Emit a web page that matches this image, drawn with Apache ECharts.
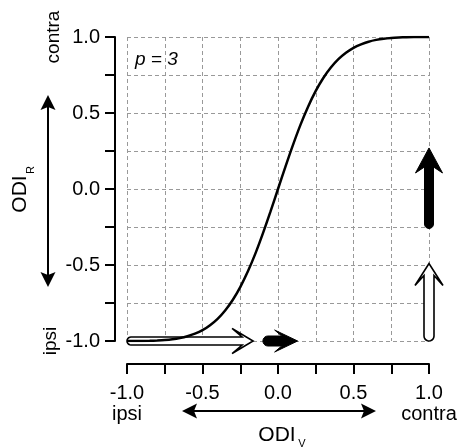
<!DOCTYPE html>
<html>
<head>
<meta charset="utf-8">
<script src="https://cdn.jsdelivr.net/npm/echarts@6/dist/echarts.min.js"></script>
<style>
  html,body{margin:0;padding:0;background:#fff;}
  #main{width:460px;height:448px;}
</style>
</head>
<body>
<div id="main"></div>
<script>
// curve p = 3
let odiV=[-1,-0.95,-0.9,-0.85,-0.8,-0.75,-0.7,-0.65,-0.6,-0.55,-0.5,-0.45,-0.4,-0.35,-0.3,-0.25,-0.2,-0.15,-0.1,-0.05,
          0,0.05,0.1,0.15,0.2,0.25,0.3,0.35,0.4,0.45,0.5,0.55,0.6,0.65,0.7,0.75,0.8,0.85,0.9,0.95,1];
let odiR=[-1,-1,-1,-0.999,-0.997,-0.994,-0.989,-0.981,-0.969,-0.952,-0.929,-0.896,-0.854,-0.799,-0.73,-0.645,-0.543,-0.425,-0.292,-0.149,
          0,0.149,0.292,0.425,0.543,0.645,0.73,0.799,0.854,0.896,0.929,0.952,0.969,0.981,0.989,0.994,0.997,0.999,1,1,1];

// arrows inside the plot (data coords)
let arrowX0=[-1,-0.1,1,1];
let arrowY0=[-1,-1,-1,-0.26];
let arrowX1=[-0.165,0.13,1,1];
let arrowY1=[-1,-1,-0.49,0.27];
let arrowFilled=[0,1,0,1];

// tick labels
let xTickVals=[-1,-0.5,0,0.5,1];
let xTickText=['-1.0\nipsi','-0.5','0.0','0.5','1.0\ncontra'];
let yTickVals=[-1,-0.5,0,0.5,1];
let yTickText=['-1.0','-0.5','0.0','0.5','1.0'];

let font='"Liberation Sans", Arial, Helvetica, sans-serif';

function tickLabel(vals,texts){
    return function(v){
        for(let i=0;i<vals.length;i++){
            if(Math.abs(vals[i]-v)<1e-6) return texts[i];
        }
        return '';
    }
}

// stealth arrow outline in pixel space
function arrowPoints(p0,p1,w,H,L,n){
    let dx=p1[0]-p0[0], dy=p1[1]-p0[1];
    let len=Math.sqrt(dx*dx+dy*dy);
    let ux=dx/len, uy=dy/len;
    let nx=-uy, ny=ux;
    let loc=[];
    for(let k=0;k<=10;k++){
        let a=Math.PI/2+k*Math.PI/10;
        loc.push([w+w*Math.cos(a), w*Math.sin(a)]);
    }
    loc.push([len-L+n,-w]);
    loc.push([len-L,-H]);
    loc.push([len,0]);
    loc.push([len-L,H]);
    loc.push([len-L+n,w]);
    return loc.map(function(q){
        return [p0[0]+q[0]*ux+q[1]*nx, p0[1]+q[0]*uy+q[1]*ny];
    });
}

function headPoly(tip,dir,L,H,n){
    let ux=dir[0], uy=dir[1], nx=-uy, ny=ux;
    let pts=[[0,0],[-L,H],[-L+n,0],[-L,-H]];
    return pts.map(function(q){
        return [tip[0]+q[0]*ux+q[1]*nx, tip[1]+q[0]*uy+q[1]*ny];
    });
}

function doubleArrow(a,b){
    let dx=b[0]-a[0], dy=b[1]-a[1];
    let len=Math.sqrt(dx*dx+dy*dy);
    let u=[dx/len,dy/len];
    return {
        type:'group',
        children:[
            {type:'line',shape:{x1:a[0]+u[0]*8,y1:a[1]+u[1]*8,x2:b[0]-u[0]*8,y2:b[1]-u[1]*8},style:{stroke:'#000',lineWidth:2}},
            {type:'polygon',shape:{points:headPoly(a,[-u[0],-u[1]],15,7.5,3)},style:{fill:'#000'}},
            {type:'polygon',shape:{points:headPoly(b,u,15,7.5,3)},style:{fill:'#000'}}
        ]
    };
}

function txt(str,x,y,size,rot,extra){
    let st={text:str,x:0,y:0,align:'center',verticalAlign:'middle',fontSize:size,fontFamily:font,fill:'#000'};
    if(extra) Object.assign(st,extra);
    return {type:'text',x:x,y:y,rotation:rot||0,style:st,z:10};
}

let curve=odiV.map(function(v,i){return [v,odiR[i]];});
let arrows=arrowX0.map(function(v,i){return [v,arrowY0[i],arrowX1[i],arrowY1[i],arrowFilled[i]];});

let myChart=echarts.init(document.getElementById('main'));

let gridLine={show:true,lineStyle:{color:'#999',width:1,type:[4,3]}};

let option={
    animation:false,
    backgroundColor:'#fff',
    grid:{left:127,right:31,top:37,bottom:107,containLabel:false},
    xAxis:{
        type:'value',min:-1,max:1,interval:0.25,offset:23,
        axisLine:{show:true,onZero:false,lineStyle:{color:'#000',width:2}},
        axisTick:{show:true,length:10,lineStyle:{color:'#000',width:2}},
        axisLabel:{show:true,margin:19,fontSize:20,fontFamily:font,color:'#000',lineHeight:21,
            formatter:tickLabel(xTickVals,xTickText),showMinLabel:true,showMaxLabel:true},
        splitLine:gridLine
    },
    yAxis:{
        type:'value',min:-1,max:1,interval:0.25,offset:12,
        axisLine:{show:true,onZero:false,lineStyle:{color:'#000',width:2}},
        axisTick:{show:true,length:10,lineStyle:{color:'#000',width:2}},
        axisLabel:{show:true,margin:15,fontSize:20,fontFamily:font,color:'#000',
            formatter:tickLabel(yTickVals,yTickText),showMinLabel:true,showMaxLabel:true},
        splitLine:gridLine
    },
    series:[{
        type:'custom',
        coordinateSystem:'cartesian2d',
        clip:false,
        z:3,
        data:arrows,
        renderItem:function(params,api){
            let p0=api.coord([api.value(0),api.value(1)]);
            let p1=api.coord([api.value(2),api.value(3)]);
            let filled=api.value(4)===1;
            let vertical=Math.abs(p1[0]-p0[0])<1;
            let pts;
            if(filled){
                pts=arrowPoints(p0,p1,vertical?4.5:5,vertical?13.5:11,vertical?25:23,vertical?6:7);
            }else{
                pts=arrowPoints(p0,p1,vertical?5:4,vertical?14:12.5,vertical?22:21,10);
            }
            return {
                type:'polygon',
                shape:{points:pts},
                style:{fill:filled?'#000':'#fff',stroke:'#000',lineWidth:filled?1:1.6}
            };
        }
    },{
        type:'line',
        data:curve,
        smooth:0.3,
        showSymbol:false,
        z:4,
        lineStyle:{color:'#000',width:2.5}
    }],
    graphic:[
        doubleArrow([48,95],[48,287]),
        doubleArrow([182,411],[376,411]),
        txt('contra',54,37,19,Math.PI/2),
        txt('ipsi',51,341,19,Math.PI/2),
        txt('ODI',20,194,21,Math.PI/2),
        txt('R',31,170,11,Math.PI/2),
        txt('ODI',277,435,21,0),
        txt('V',302,444,11,0),
        txt('p = 3',135,60,19,0,{align:'left',fontStyle:'italic'})
    ]
};
myChart.setOption(option);
</script>
</body>
</html>
